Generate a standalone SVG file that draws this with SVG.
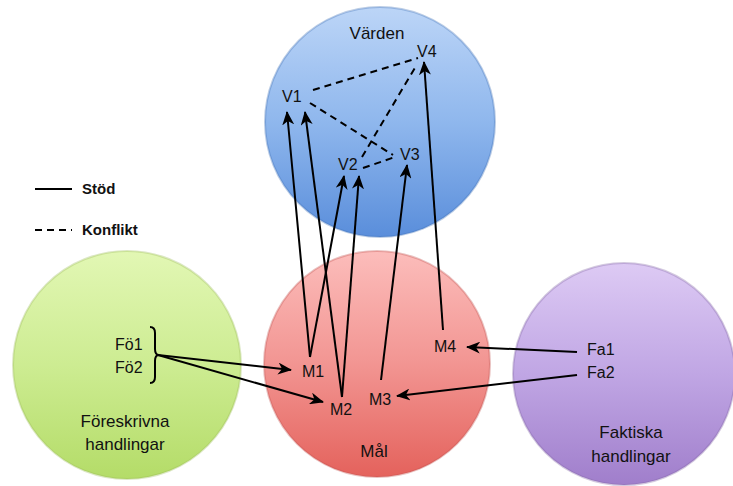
<svg xmlns="http://www.w3.org/2000/svg" width="733" height="486" viewBox="0 0 733 486">
<style>
text{font-family:"Liberation Sans",Arial,sans-serif;fill:#111}
.n{font-size:16px}
.c{font-size:17px;text-anchor:middle}
.lg{font-size:15px;font-weight:bold}
.s{stroke:#000;stroke-width:2;fill:none}
.d{stroke:#000;stroke-width:2;fill:none;stroke-dasharray:7 5}
.circ{stroke-width:2;stroke-opacity:0.35}
</style>
<defs>
<linearGradient id="gb" x1="0" y1="0" x2="0" y2="1"><stop offset="0" stop-color="#bcd5f7"/><stop offset="0.5" stop-color="#8fb7ed"/><stop offset="1" stop-color="#5a8edb"/></linearGradient>
<linearGradient id="gr" x1="0" y1="0" x2="0" y2="1"><stop offset="0" stop-color="#fcbdbb"/><stop offset="0.5" stop-color="#f29592"/><stop offset="1" stop-color="#e4625c"/></linearGradient>
<linearGradient id="gg" x1="0" y1="0" x2="0" y2="1"><stop offset="0" stop-color="#e2f7b4"/><stop offset="0.5" stop-color="#cdec92"/><stop offset="1" stop-color="#b4dc68"/></linearGradient>
<linearGradient id="gp" x1="0" y1="0" x2="0" y2="1"><stop offset="0" stop-color="#ddcaf4"/><stop offset="0.5" stop-color="#c0a6e4"/><stop offset="1" stop-color="#a07ecb"/></linearGradient>
<marker id="ah" viewBox="0 0 14 12" refX="13" refY="6" markerWidth="14" markerHeight="12" markerUnits="userSpaceOnUse" orient="auto">
<path d="M0,0 L14,6 L0,12 L4,6 z" fill="#000"/>
</marker>
</defs>
<g id="circle-varden"><circle class="circ" cx="380" cy="122" r="115" fill="url(#gb)" stroke="#3f6fb5"/><text class="c" x="377" y="39">Värden</text></g>
<g id="circle-mal"><circle class="circ" cx="377" cy="364" r="113" fill="url(#gr)" stroke="#c0504d"/><text class="c" x="374" y="457">Mål</text></g>
<g id="circle-foreskrivna"><circle class="circ" cx="127" cy="365" r="114" fill="url(#gg)" stroke="#9bbb59"/><text class="c" x="125" y="427">Föreskrivna</text><text class="c" x="125" y="450">handlingar</text></g>
<g id="circle-faktiska"><circle class="circ" cx="624" cy="374" r="111" fill="url(#gp)" stroke="#8064a2"/><text class="c" x="631" y="438">Faktiska</text><text class="c" x="631" y="462">handlingar</text></g>
<g id="legend">
<line class="s" x1="35" y1="189" x2="72" y2="189"/><text class="lg" x="82" y="194">Stöd</text>
<line class="d" x1="35" y1="230" x2="72" y2="230"/><text class="lg" x="82" y="235">Konflikt</text>
</g>
<g id="connectors">
<line class="d" x1="313" y1="90" x2="418" y2="58"/>
<line class="d" x1="310" y1="103" x2="393" y2="155"/>
<line class="d" x1="362" y1="157" x2="416" y2="66"/>
<line class="d" x1="363" y1="168" x2="395" y2="157"/>
<path class="s" d="M150,327 Q155,327 155,333 L155,349 Q155,355 159,355 Q155,355 155,361 L155,377 Q155,383 150,383"/>
<line class="s" x1="158" y1="355" x2="291" y2="370" marker-end="url(#ah)"/>
<line class="s" x1="158" y1="355" x2="323" y2="402" marker-end="url(#ah)"/>
<line class="s" x1="577" y1="352" x2="467" y2="347" marker-end="url(#ah)"/>
<line class="s" x1="577" y1="375" x2="397" y2="396" marker-end="url(#ah)"/>
<line class="s" x1="310" y1="357" x2="287" y2="112" marker-end="url(#ah)"/>
<line class="s" x1="310" y1="357" x2="344" y2="176" marker-end="url(#ah)"/>
<line class="s" x1="342" y1="397" x2="305" y2="112" marker-end="url(#ah)"/>
<line class="s" x1="342" y1="397" x2="359" y2="176" marker-end="url(#ah)"/>
<line class="s" x1="381" y1="380" x2="407" y2="165" marker-end="url(#ah)"/>
<line class="s" x1="443" y1="330" x2="424" y2="62" marker-end="url(#ah)"/>
</g>
<g id="node-V1"><text class="n" x="282" y="102">V1</text></g>
<g id="node-V2"><text class="n" x="338" y="170">V2</text></g>
<g id="node-V3"><text class="n" x="400" y="160">V3</text></g>
<g id="node-V4"><text class="n" x="417" y="57">V4</text></g>
<g id="node-M1"><text class="n" x="302" y="377">M1</text></g>
<g id="node-M2"><text class="n" x="330" y="415">M2</text></g>
<g id="node-M3"><text class="n" x="369" y="405">M3</text></g>
<g id="node-M4"><text class="n" x="434" y="352">M4</text></g>
<g id="node-Fo1"><text class="n" x="115" y="350">Fö1</text></g>
<g id="node-Fo2"><text class="n" x="115" y="373">Fö2</text></g>
<g id="node-Fa1"><text class="n" x="587" y="355">Fa1</text></g>
<g id="node-Fa2"><text class="n" x="587" y="378">Fa2</text></g>
</svg>
